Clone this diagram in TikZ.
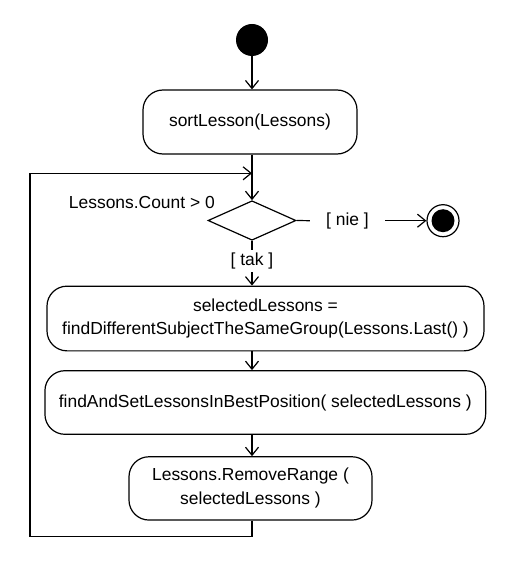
\documentclass[tikz,border=0pt]{standalone}
\usepackage{fontspec}
\setmainfont{Liberation Sans}
\usetikzlibrary{arrows.meta,shapes.geometric}
\begin{document}
\begin{tikzpicture}[x=1bp,y=-1bp,
  every node/.style={font=\fontsize{17.5}{24}\selectfont},
  act/.style={draw, rounded corners=20bp, align=center, inner sep=0pt, line width=1.2bp},
  flow/.style={line width=1.2bp, -{Straight Barb[length=8bp,width=13bp]}},
  plain/.style={line width=1.2bp},
]
\useasboundingbox[fill=white] (0,0) rectangle (521,583);
% nodes
\node[circle, fill=black, minimum size=32bp, inner sep=0pt] (start) at (252,40) {};
\node[act, minimum width=214bp, minimum height=64bp] (sort) at (250,122) {sortLesson(Lessons)};
\node[diamond, draw, line width=1.2bp, inner sep=0pt, minimum width=88bp, minimum height=39.5bp] (dec) at (252,220.5) {};
\node[anchor=east, inner sep=0pt] (cond) at (215,202) {Lessons.Count > 0};
\node[inner sep=0pt, minimum width=75bp, minimum height=20bp] (nie) at (347.5,220.7) {[ nie ]};
\node[circle, draw, line width=1.2bp, minimum size=32bp, inner sep=0pt] (end) at (443,220.7) {};
\fill (end.center) circle (11.5bp);
\node[inner sep=0pt, minimum width=44bp, minimum height=21.7bp] (tak) at (252,261) {[ tak ]};
\node[act, minimum width=437bp, minimum height=64.7bp] (sel) at (265.5,318.5) {selectedLessons =\\findDifferentSubjectTheSameGroup(Lessons.Last() )};
\node[act, minimum width=440.7bp, minimum height=63.6bp] (best) at (265.3,402.5) {findAndSetLessonsInBestPosition( selectedLessons )};
\node[act, minimum width=243bp, minimum height=63.3bp] (rem) at (250.5,488.4) {Lessons.RemoveRange (\\selectedLessons )};
\coordinate (loopB) at (30,536.7);
\coordinate (loopT) at (30,173.3);
\coordinate (merge) at (252,173.3);
% connectors
\draw[flow] (start.south) -- (start.south |- sort.north);
\draw[flow] (sort.south -| dec) -- (dec.north);
\draw[plain] (dec.east) -- (nie.west);
\draw[flow] (nie.east) -- (end.west);
\draw[plain] (dec.south) -- (tak.north);
\draw[flow] (tak.south) -- (tak.south |- sel.north);
\draw[flow] (sel.south -| dec) -- (best.north -| dec);
\draw[flow] (best.south -| dec) -- (rem.north -| dec);
\draw[flow] (rem.south -| dec) |- (loopB) -- (loopT) -- (merge);
\end{tikzpicture}
\end{document}
